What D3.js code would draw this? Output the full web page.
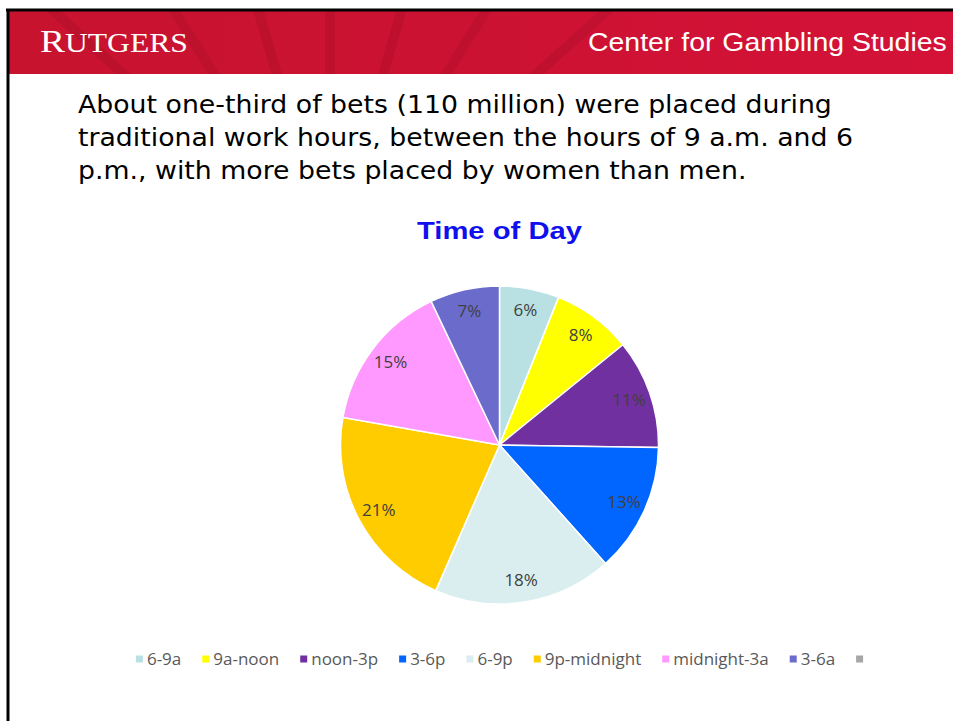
<!DOCTYPE html>
<html>
<head>
<meta charset="utf-8">
<script src="https://cdn.jsdelivr.net/npm/d3@7"></script>
<style>
  body { margin: 0; background: #fff; }
  svg { display: block; }
</style>
</head>
<body>
<div class="pie-container"></div>
<script>
// Data.
const categories = ["6-9a", "9a-noon", "noon-3p", "3-6p", "6-9p", "9p-midnight", "midnight-3a", "3-6a", ""];
const values = [6, 8, 11, 13, 18, 21, 15, 7, 0];
const colors = ["#b9e0e3", "#ffff00", "#7030a0", "#0066ff", "#daeef0", "#ffcc00", "#ff99ff", "#6b6bcc", "#a6a6a6"];
const bodyLines = [
  "About one-third of bets (110 million) were placed during",
  "traditional work hours, between the hours of 9 a.m. and 6",
  "p.m., with more bets placed by women than men."
];

const width = 953;
const height = 721;

// stretch a text node horizontally so it spans a target width
function fitWidth(sel, x, target) {
  const w = sel.node().getComputedTextLength();
  const k = target / w;
  sel.attr("transform", `translate(${x - x * k}, 0) scale(${k}, 1)`);
  return k;
}

const svg = d3
  .select(".pie-container")
  .append("svg")
  .attr("width", width)
  .attr("height", height);

svg.append("rect").attr("width", width).attr("height", height).style("fill", "#fff");

// Banner.
const defs = svg.append("defs");
const grad = defs
  .append("linearGradient")
  .attr("id", "banner")
  .attr("x1", "0%")
  .attr("x2", "100%");
grad.append("stop").attr("offset", "0%").attr("stop-color", "#c8132f");
grad.append("stop").attr("offset", "50%").attr("stop-color", "#cc1233");
grad.append("stop").attr("offset", "100%").attr("stop-color", "#d41238");

defs
  .append("clipPath")
  .attr("id", "bannerClip")
  .append("rect")
  .attr("x", 9)
  .attr("y", 11)
  .attr("width", width - 9)
  .attr("height", 63);

svg
  .append("rect")
  .attr("x", 9)
  .attr("y", 11)
  .attr("width", width - 9)
  .attr("height", 63)
  .style("fill", "url(#banner)");

// faint radial texture, like a wheel behind the logo
const texture = svg
  .append("g")
  .attr("clip-path", "url(#bannerClip)")
  .style("opacity", 0.06);
d3.range(-80, 81, 16).forEach((a) => {
  const r = (a * Math.PI) / 180;
  texture
    .append("line")
    .attr("x1", 330)
    .attr("y1", 260)
    .attr("x2", 330 + Math.sin(r) * 400)
    .attr("y2", 260 - Math.cos(r) * 400)
    .attr("stroke", "#000")
    .attr("stroke-width", 10);
});

// Frame lines.
svg
  .append("line")
  .attr("x1", 6)
  .attr("y1", 10)
  .attr("x2", width)
  .attr("y2", 10)
  .attr("stroke", "#000")
  .attr("stroke-width", 3);
svg
  .append("line")
  .attr("x1", 8)
  .attr("y1", 9)
  .attr("x2", 8)
  .attr("y2", height)
  .attr("stroke", "#000")
  .attr("stroke-width", 3);

// Header texts.
const logo = svg
  .append("text")
  .attr("x", 40)
  .attr("y", 52)
  .style("font-family", "'Liberation Serif', serif")
  .style("font-size", "32px")
  .style("fill", "#fff");
logo.append("tspan").text("R");
logo.append("tspan").style("font-size", "27px").text("UTGERS");
fitWidth(logo, 40, 148);

const center = svg
  .append("text")
  .attr("x", 588)
  .attr("y", 51)
  .style("font-family", "'Liberation Sans', Arial, sans-serif")
  .style("font-size", "25px")
  .style("fill", "#fff")
  .text("Center for Gambling Studies");
fitWidth(center, 588, 359);

// Body text.
const body = svg
  .append("g")
  .selectAll("text")
  .data(bodyLines)
  .enter()
  .append("text")
  .attr("x", 78)
  .attr("y", (d, i) => 113 + i * 33)
  .style("font-family", "'DejaVu Sans', Verdana, sans-serif")
  .style("font-size", "24px")
  .style("fill", "#000")
  .text((d) => d);
const k = 754 / body.nodes()[0].getComputedTextLength();
body.attr("transform", `translate(${78 - 78 * k}, 0) scale(${k}, 1)`);

// Chart title.
const title = svg
  .append("text")
  .attr("x", 417)
  .attr("y", 239)
  .style("font-family", "'Liberation Sans', Arial, sans-serif")
  .style("font-weight", "bold")
  .style("font-size", "24px")
  .style("fill", "#1010ee")
  .text("Time of Day");
fitWidth(title, 417, 165);

// Pie.
const cx = 499.5;
const cy = 445;
const radius = 159;

const pie = d3.pie().sort(null).value((d) => d.value);
const pieData = pie(
  categories
    .map((c, i) => ({ category: c, value: values[i], color: colors[i] }))
    .filter((d) => d.value > 0)
);

const arc = d3.arc().innerRadius(0).outerRadius(radius);
const labelArc = d3.arc().innerRadius(137).outerRadius(137);

const pieG = svg.append("g").attr("transform", `translate(${cx}, ${cy})`);

pieG
  .selectAll(".slice")
  .data(pieData)
  .enter()
  .append("path")
  .attr("class", "slice")
  .attr("d", arc)
  .style("fill", (d) => d.data.color)
  .style("stroke", "#fff")
  .style("stroke-width", 1.5);

pieG
  .selectAll(".label")
  .data(pieData)
  .enter()
  .append("text")
  .attr("class", "label")
  .attr("transform", (d) => `translate(${labelArc.centroid(d)})`)
  .attr("text-anchor", "middle")
  .attr("dy", "0.35em")
  .style("font-family", "'Open Sans', sans-serif")
  .style("font-size", "17px")
  .style("fill", "#404040")
  .text((d) => d.data.value + "%");

// Legend.
const legend = svg.append("g").attr("class", "legend");
const items = legend
  .selectAll("g")
  .data(categories.map((c, i) => ({ category: c, color: colors[i] })))
  .enter()
  .append("g");

items
  .append("rect")
  .attr("width", 7)
  .attr("height", 7)
  .attr("y", -3.5)
  .style("fill", (d) => d.color);

items
  .append("text")
  .attr("x", 11)
  .attr("dy", "0.35em")
  .style("font-family", "'Open Sans', sans-serif")
  .style("font-size", "17px")
  .style("fill", "#595959")
  .text((d) => d.category);

let offset = 0;
const gap = 21;
const offsets = [];
items.each(function (d) {
  const w = d.category ? 11 + this.querySelector("text").getComputedTextLength() : 7;
  offsets.push(offset);
  offset += w + gap;
});
const total = offset - gap;
const startX = 499.5 - total / 2;
items.attr("transform", (d, i) => `translate(${startX + offsets[i]}, 659)`);
</script>
</body>
</html>
